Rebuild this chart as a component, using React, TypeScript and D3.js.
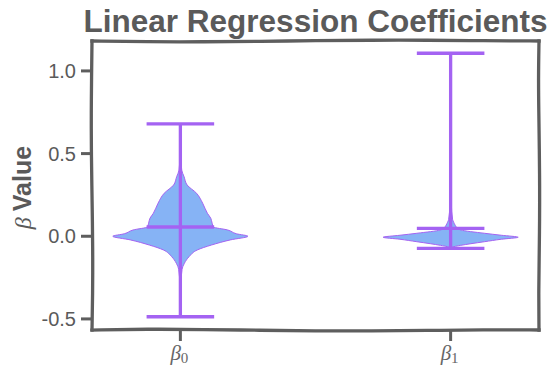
import React from 'react';
import * as d3 from 'd3';

// violin outlines: coefficient value, density relative to the peak
const b0Values = [0.68, 0.5, 0.4, 0.36, 0.31, 0.26, 0.2, 0.139, 0.109, 0.079, 0.056, 0.038, 0.015, 0.0, -0.022, -0.053, -0.083, -0.123, -0.163, -0.2, -0.3, -0.487];
const b0Density = [0.0, 0.004, 0.02, 0.055, 0.1, 0.24, 0.33, 0.4, 0.45, 0.47, 0.49, 0.7, 0.83, 1.0, 0.74, 0.46, 0.25, 0.13, 0.06, 0.025, 0.006, 0.0];
const b1Values = [1.107, 0.5, 0.2, 0.1, 0.085, 0.065, 0.05, 0.038, 0.018, 0.006, -0.006, -0.018, -0.033, -0.045, -0.055, -0.063, -0.073];
const b1Density = [0.0, 0.005, 0.01, 0.03, 0.045, 0.07, 0.1, 0.15, 0.5, 0.75, 1.0, 0.75, 0.5, 0.3, 0.15, 0.05, 0.0];

const positions = [1, 2];
const subscripts = ['0', '1'];
const medians = [0.056, 0.048];
const mins = [-0.487, -0.073];
const maxs = [0.68, 1.107];
const yTicks = [-0.5, 0.0, 0.5, 1.0];

const W = 560;
const H = 375;
const left = 92, right = 539, top = 41, bottom = 330;
const ink = '#5e5e5e';
const purple = '#a463f2';
const fill = '#86b3f5';

const x = d3.scaleLinear().domain([0.673, 2.327]).range([left, right]);
const y = d3.scaleLinear().domain([-0.567, 1.181]).range([bottom, top]);
const halfW = x(1.25) - x(1);
const capW = x(1.125) - x(1);

const violins = [
  b0Values.map((v, i) => [v, b0Density[i]] as [number, number]),
  b1Values.map((v, i) => [v, b1Density[i]] as [number, number]),
];

// hand-drawn look for the frame
const wobble = (x0: number, y0: number, x1: number, y1: number, amp: number, ph: number) => {
  const n = 8;
  return d3.range(n + 1).map(i => {
    const t = i / n;
    const off = i === 0 || i === n ? 0 : amp * Math.sin(t * Math.PI * 2 + ph);
    const dx = x1 - x0, dy = y1 - y0;
    const len = Math.hypot(dx, dy);
    return [x0 + dx * t - (dy / len) * off, y0 + dy * t + (dx / len) * off] as [number, number];
  });
};

const App: React.FC = () => {
  const sketch = d3.line().curve(d3.curveBasis);
  const edges = [
    wobble(left, top, right, top, 0.9, 0.4),
    wobble(right, top, right, bottom, 0.7, 1.3),
    wobble(right, bottom, left, bottom, 1.0, 2.1),
    wobble(left, bottom, left, top, 0.8, 0.2),
  ];

  return (
    <svg width={W} height={H} style={{ position: 'absolute', left: 0, top: 0, background: '#fff' }}
      fontFamily="'Liberation Sans', Arial, Helvetica, sans-serif">
      <text x={(left + right) / 2} y={32} textAnchor="middle" fontSize={30.5} fontWeight="bold" fill="#5a5a5a"
        textLength={464} lengthAdjust="spacingAndGlyphs">
        Linear Regression Coefficients
      </text>

      {violins.map((pts, i) => {
        const cx = x(positions[i]);
        const area = d3.area<[number, number]>()
          .y(d => y(d[0]))
          .x0(d => cx - d[1] * halfW)
          .x1(d => cx + d[1] * halfW)
          .curve(d3.curveMonotoneY);
        return (
          <g key={i}>
            <path d={area(pts) || ''} fill={fill} stroke={purple} strokeWidth={1} />
            <line x1={cx} x2={cx} y1={y(mins[i])} y2={y(maxs[i])} stroke={purple} strokeWidth={3.3} />
            <line x1={cx - capW} x2={cx + capW} y1={y(maxs[i])} y2={y(maxs[i])} stroke={purple} strokeWidth={3.3} />
            <line x1={cx - capW} x2={cx + capW} y1={y(mins[i])} y2={y(mins[i])} stroke={purple} strokeWidth={3.3} />
            <line x1={cx - capW} x2={cx + capW} y1={y(medians[i])} y2={y(medians[i])} stroke={purple} strokeWidth={3.3} />
          </g>
        );
      })}

      {edges.map((e, i) => (
        <path key={i} d={sketch(e) || ''} fill="none" stroke={ink} strokeWidth={3.3} strokeLinecap="square" />
      ))}

      {yTicks.map(t => (
        <g key={t}>
          <line x1={left - 11} x2={left} y1={y(t)} y2={y(t)} stroke={ink} strokeWidth={3} />
          <text x={left - 16} y={y(t)} dy="0.36em" textAnchor="end" fontSize={20} fill="#5a5a5a">
            {t.toFixed(1)}
          </text>
        </g>
      ))}

      {positions.map((p, i) => (
        <g key={p}>
          <line x1={x(p)} x2={x(p)} y1={bottom} y2={bottom + 11} stroke={ink} strokeWidth={3} />
          <text x={x(p) - 1} y={360} textAnchor="middle" fontSize={21} fill="#666"
            fontFamily="'Liberation Serif', serif" fontStyle="italic">
            β<tspan fontStyle="normal" fontSize={15} dy={3}>{subscripts[i]}</tspan>
          </text>
        </g>
      ))}

      <text transform={`translate(31,${(top + bottom) / 2 + 2}) rotate(-90)`} textAnchor="middle" fill="#5a5a5a">
        <tspan fontFamily="'Liberation Serif', serif" fontStyle="italic" fontSize={24}>β</tspan>
        <tspan fontSize={25} fontWeight="bold" dx={6}>Value</tspan>
      </text>
    </svg>
  );
};

export default App;
